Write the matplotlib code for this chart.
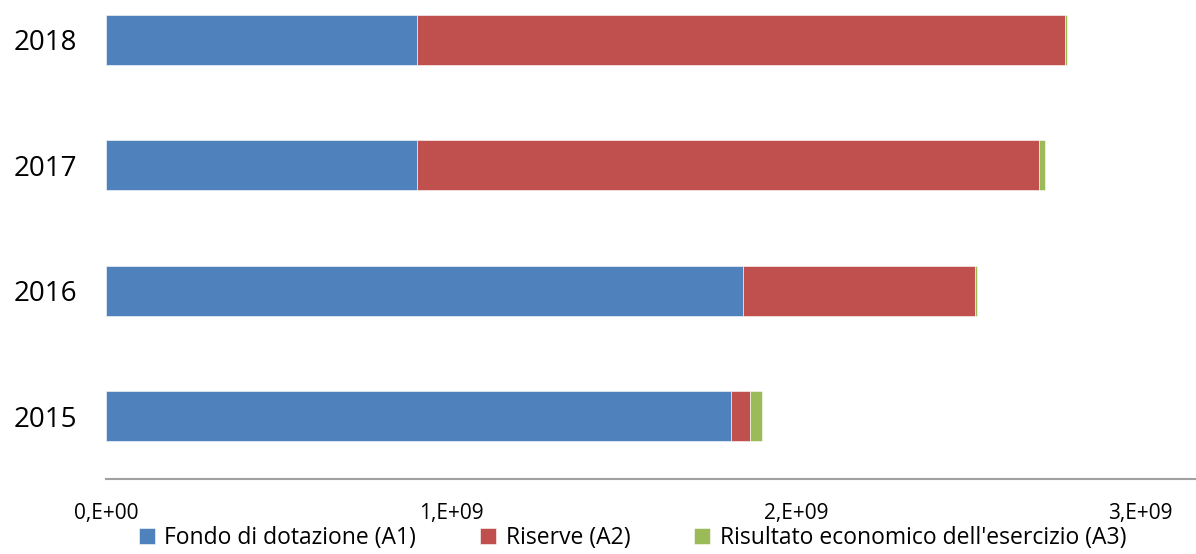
import matplotlib.pyplot as plt
from matplotlib.ticker import FuncFormatter

plt.rcParams['font.family'] = ['Open Sans', 'DejaVu Sans']

# dati (valori in euro)
anni = ['2015', '2016', '2017', '2018']
fondo = [1.812e9, 1.846e9, 0.902e9, 0.902e9]
riserve = [0.055e9, 0.672e9, 1.802e9, 1.878e9]
risultato = [0.035e9, 0.006e9, 0.017e9, 0.005e9]

serie = ['Fondo di dotazione (A1)', 'Riserve (A2)', "Risultato economico dell'esercizio (A3)"]
colori = ['#4F81BD', '#C0504D', '#9BBB59']

fig = plt.figure(figsize=(11.96, 5.54), dpi=100)
ax = fig.add_axes([106 / 1196, 75 / 554, (1196 - 106) / 1196, 502 / 554])

pos = list(range(len(anni)))
sinistra = [0.0] * len(anni)
for valori, nome, col in zip([fondo, riserve, risultato], serie, colori):
    ax.barh(pos, valori, height=0.4, left=sinistra, color=col, label=nome,
            edgecolor='white', linewidth=0.4)
    sinistra = [a + b for a, b in zip(sinistra, valori)]

ax.set_ylim(-0.5, 3.5)
ax.set_xlim(0, 3.16e9)
ax.set_xticks([0, 1e9, 2e9, 3e9])
ax.xaxis.set_major_formatter(FuncFormatter(
    lambda v, p: '0,E+00' if v == 0 else '%d,E+%02d' % (round(v / 1e9), 9)))
ax.set_yticks(pos)
ax.set_yticklabels(anni)

ax.tick_params(axis='x', length=0, pad=17, labelsize=15)
ax.tick_params(axis='y', length=0, pad=21, labelsize=20)
for s in ['top', 'right', 'left']:
    ax.spines[s].set_visible(False)
ax.spines['bottom'].set_color('#A0A0A0')
ax.spines['bottom'].set_linewidth(1.5)

fig.legend(loc='lower center', bbox_to_anchor=(0.529, -0.03), ncol=3, frameon=False,
           fontsize=16.5, handlelength=0.7, handleheight=0.7, handletextpad=0.4,
           columnspacing=2.8)

plt.savefig('out.png', dpi=100)
